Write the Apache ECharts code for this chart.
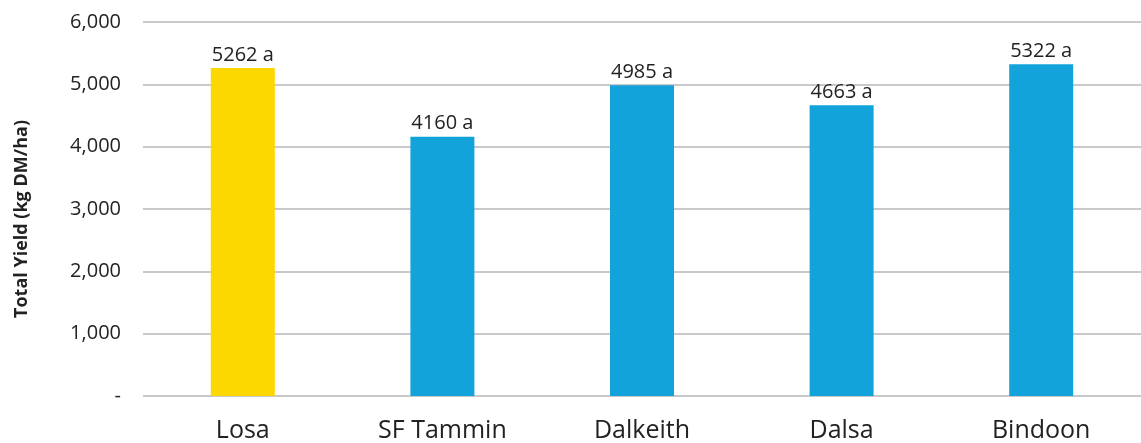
<!DOCTYPE html>
<html>
<head>
<meta charset="utf-8">
<script src="https://cdn.jsdelivr.net/npm/echarts@6/dist/echarts.min.js"></script>
<style>
	html, body { margin: 0; padding: 0; background: #fff; }
	#chart { width: 1141px; height: 443px; }
</style>
</head>
<body>
<div id="chart"></div>
<script>
	// cultivars and their total yield (kg DM/ha)
	const cultivars = ['Losa', 'SF Tammin', 'Dalkeith', 'Dalsa', 'Bindoon'];
	const yields = [5262, 4160, 4985, 4663, 5322];
	const letters = ['a', 'a', 'a', 'a', 'a'];
	const barColors = ['#FDD800', '#12A3DB', '#12A3DB', '#12A3DB', '#12A3DB'];

	const chart = echarts.init(document.getElementById('chart'), null, { renderer: 'canvas' });

	const font = '"Open Sans", Lato, sans-serif';

	chart.setOption({
		animation: false,
		grid: {
			left: 143,
			width: 1005,
			top: 22,
			bottom: 45
		},
		xAxis: {
			type: 'category',
			data: cultivars,
			axisLine: { show: false },
			axisTick: { show: false },
			axisLabel: {
				color: '#222',
				fontSize: 25,
				fontFamily: font,
				margin: 22
			}
		},
		yAxis: {
			type: 'value',
			min: 0,
			max: 6000,
			interval: 1000,
			name: 'Total Yield (kg DM/ha)',
			nameLocation: 'middle',
			nameGap: 112,
			nameTextStyle: {
				color: '#222',
				fontSize: 18,
				fontWeight: 'bold',
				fontFamily: font,
				padding: [0, 20, 0, 0]
			},
			axisLabel: {
				color: '#222',
				fontSize: 20,
				fontFamily: font,
				margin: 22,
				formatter: v => v === 0 ? '-' : v.toLocaleString('en-US')
			},
			splitLine: {
				lineStyle: { color: '#c9c9cd', width: 2 }
			}
		},
		series: [{
			type: 'bar',
			barWidth: 64,
			data: yields.map((v, i) => ({
				value: v,
				itemStyle: { color: barColors[i] }
			})),
			label: {
				show: true,
				position: 'top',
				distance: 3,
				color: '#222',
				fontSize: 20,
				fontFamily: font,
				formatter: p => p.value + ' ' + letters[p.dataIndex]
			}
		}]
	});
</script>
</body>
</html>
